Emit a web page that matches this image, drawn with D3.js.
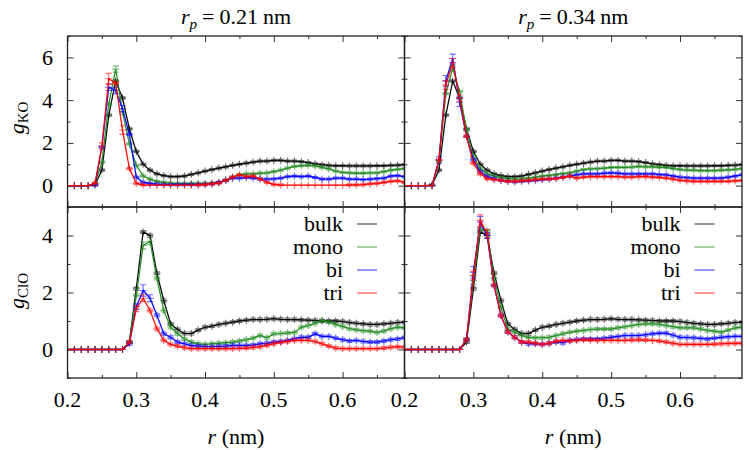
<!DOCTYPE html>
<html><head><meta charset="utf-8">
<script src="https://cdn.jsdelivr.net/npm/d3@7"></script>
<style>
body{margin:0;background:#fff}
svg#c text, svg#c tspan { font-family: "Liberation Serif", "Times New Roman", Tinos, serif !important; }
</style>
</head><body>
<svg id="c" width="750" height="450" font-family="Liberation Serif"></svg>
<script>
// ---------- data ----------
const rValues = [0.20,0.21,0.22,0.23,0.24,0.25,0.26,0.27,0.28,0.29,
  0.30,0.31,0.32,0.33,0.34,0.35,0.36,0.37,0.38,0.39,
  0.40,0.41,0.42,0.43,0.44,0.45,0.46,0.47,0.48,0.49,
  0.50,0.51,0.52,0.53,0.54,0.55,0.56,0.57,0.58,0.59,
  0.60,0.61,0.62,0.63,0.64,0.65,0.66,0.67,0.68,0.69];

const seriesNames = ["bulk","mono","bi","tri"];
const seriesColors = ["#000000","#228b22","#0000ff","#ff0000"];
const panelTitles = ["0.21","0.34"];
const xTickLabels = [0.2,0.3,0.4,0.5,0.6];
const koTickLabels = [0,2,4,6];
const cloTickLabels = [0,2,4];

const bulkKO = [0,0,0,0,0.03, 0.73,3.3,4.9,4.1,2.65, 1.6,1.0,0.72,0.55,0.47, 0.42,0.42,0.45,0.53,0.6,
  0.68,0.75,0.82,0.88,0.95, 1.0,1.05,1.1,1.15,1.15, 1.18,1.18,1.15,1.15,1.12, 1.08,1.02,0.98,0.95,0.93,
  0.93,0.92,0.92,0.92,0.92, 0.93,0.93,0.95,0.96,0.98];
const monoKO21 = [0,0,0,0,0.1, 1.1,3.8,5.45,3.45,1.95, 0.95,0.45,0.3,0.2,0.15, 0.12,0.1,0.1,0.1,0.1,
  0.1,0.12,0.15,0.25,0.4, 0.5,0.55,0.55,0.58,0.6, 0.65,0.72,0.82,0.9,0.93, 0.95,0.92,0.85,0.78,0.68,
  0.62,0.6,0.58,0.58,0.6, 0.6,0.65,0.72,0.76,0.8];
const biKO21 = [0,0,0,0,0.05, 1.8,4.6,4.45,3.6,2.4, 0.4,0.15,0.1,0.07,0.05, 0.05,0.05,0.05,0.05,0.05,
  0.06,0.08,0.15,0.25,0.35, 0.35,0.38,0.35,0.32,0.3, 0.32,0.35,0.42,0.45,0.42, 0.45,0.38,0.3,0.3,0.35,
  0.35,0.3,0.3,0.28,0.3, 0.33,0.35,0.45,0.47,0.42];
const triKO21 = [0,0,0,0,0.1, 1.85,5.0,4.8,2.6,0.8, 0.1,0.03,0.02,0.02,0.02, 0.02,0.02,0.02,0.02,0.03,
  0.05,0.08,0.12,0.25,0.4, 0.5,0.42,0.45,0.3,0.15, 0.06,0.03,0.02,0.02,0.02, 0.02,0.02,0.02,0.02,0.02,
  0.02,0.03,0.03,0.05,0.08, 0.1,0.15,0.2,0.22,0.15];
const monoKO34 = [0,0,0,0,0, 1.15,4.3,5.5,4.4,2.6, 1.35,0.8,0.55,0.45,0.38, 0.33,0.3,0.32,0.35,0.4,
  0.45,0.48,0.52,0.56,0.6, 0.68,0.75,0.78,0.8,0.82, 0.85,0.85,0.85,0.87,0.9, 0.88,0.88,0.86,0.85,0.8,
  0.75,0.73,0.72,0.7,0.7, 0.7,0.72,0.74,0.76,0.8];
const biKO34 = [0,0,0,0,0, 1.2,4.9,5.95,3.9,2.3, 1.2,0.65,0.42,0.33,0.25, 0.2,0.18,0.2,0.22,0.25,
  0.28,0.3,0.35,0.4,0.45, 0.5,0.55,0.55,0.55,0.58, 0.6,0.58,0.55,0.55,0.55, 0.55,0.55,0.52,0.5,0.45,
  0.4,0.37,0.35,0.35,0.35, 0.35,0.35,0.4,0.45,0.5];
const triKO34 = [0,0,0,0,0, 1.2,4.7,5.75,4.1,2.3, 1.05,0.55,0.33,0.28,0.25, 0.2,0.2,0.22,0.25,0.28,
  0.3,0.32,0.33,0.38,0.45, 0.35,0.4,0.42,0.42,0.42, 0.42,0.42,0.4,0.4,0.42, 0.42,0.4,0.38,0.35,0.3,
  0.25,0.22,0.2,0.2,0.2, 0.2,0.2,0.2,0.22,0.25];

const bulkClO = [0,0,0,0,0, 0,0,0,0,0.26, 2.13,4.12,4.0,2.68,1.72, 0.9,0.7,0.56,0.56,0.68,
  0.78,0.82,0.88,0.92,0.96, 1.0,1.03,1.05,1.05,1.06, 1.08,1.06,1.05,1.05,1.04, 1.03,1.02,1.0,1.0,1.0,
  0.98,0.95,0.92,0.9,0.88, 0.88,0.9,0.92,0.95,0.95];
const monoClO21 = [0,0,0,0,0, 0,0,0,0,0.25, 1.9,3.65,3.8,2.5,1.37, 0.78,0.55,0.37,0.26,0.2,
  0.18,0.2,0.22,0.24,0.26, 0.3,0.34,0.4,0.49,0.41, 0.55,0.56,0.58,0.6,0.78, 0.84,0.92,1.02,0.96,0.88,
  0.81,0.73,0.69,0.66,0.64, 0.6,0.65,0.73,0.78,0.76];
const biClO21 = [0,0,0,0,0, 0,0,0,0,0.2, 1.5,2.07,1.8,1.2,0.55, 0.43,0.26,0.2,0.14,0.12,
  0.1,0.1,0.11,0.12,0.14, 0.14,0.14,0.16,0.2,0.22, 0.26,0.28,0.32,0.38,0.43, 0.43,0.55,0.46,0.46,0.4,
  0.34,0.3,0.32,0.28,0.26, 0.26,0.3,0.34,0.37,0.41];
const triClO21 = [0,0,0,0,0, 0,0,0,0,0.25, 1.43,1.8,1.37,0.73,0.32, 0.18,0.12,0.06,0.03,0.03,
  0.03,0.03,0.03,0.03,0.03, 0.04,0.05,0.07,0.1,0.15, 0.2,0.25,0.28,0.32,0.32, 0.32,0.28,0.2,0.12,0.05,
  0.03,0.03,0.03,0.03,0.03, 0.03,0.05,0.08,0.1,0.08];
const monoClO34 = [0,0,0,0,0, 0,0,0,0,0.35, 2.42,4.23,4.17,2.48,1.48, 0.72,0.61,0.49,0.43,0.41,
  0.41,0.43,0.49,0.55,0.61, 0.64,0.67,0.7,0.72,0.72, 0.72,0.76,0.8,0.84,0.88, 0.9,0.9,0.88,0.84,0.8,
  0.76,0.76,0.76,0.72,0.67, 0.64,0.61,0.68,0.76,0.78];
const biClO34 = [0,0,0,0,0, 0,0,0,0,0.35, 2.71,4.47,4.0,2.25,1.19, 0.61,0.43,0.26,0.2,0.2,
  0.18,0.22,0.26,0.24,0.32, 0.35,0.37,0.37,0.37,0.4, 0.43,0.46,0.49,0.49,0.49, 0.52,0.55,0.57,0.57,0.5,
  0.43,0.42,0.41,0.39,0.37, 0.4,0.43,0.45,0.46,0.46];
const triClO34 = [0,0,0,0,0, 0,0,0,0,0.35, 2.6,4.53,4.06,2.25,1.19, 0.61,0.43,0.26,0.26,0.22,
  0.18,0.22,0.29,0.32,0.3, 0.32,0.34,0.33,0.32,0.32, 0.32,0.32,0.32,0.33,0.34, 0.33,0.32,0.3,0.26,0.22,
  0.18,0.18,0.18,0.18,0.18, 0.19,0.2,0.21,0.22,0.22];

// error bars (half-widths) at the peaks: [panel, series, r, err]
const peakErrors = [
  ["KO21","mono",0.27,0.14],["KO21","mono",0.28,0.12],["KO21","tri",0.26,0.25],["KO21","tri",0.25,0.15],
  ["KO21","bi",0.26,0.15],["KO21","bi",0.27,0.15],["KO21","tri",0.28,0.2],["KO21","bi",0.28,0.15],
  ["KO34","bi",0.27,0.2],["KO34","tri",0.27,0.2],["KO34","mono",0.27,0.15],["KO34","bi",0.26,0.25],
  ["KO34","tri",0.26,0.2],["KO34","bi",0.28,0.2],["KO34","tri",0.28,0.15],["KO34","bi",0.25,0.15],
  ["ClO21","bi",0.31,0.2],["ClO21","bi",0.32,0.12],["ClO21","tri",0.31,0.12],["ClO21","mono",0.31,0.12],
  ["ClO21","mono",0.32,0.12],["ClO21","bi",0.30,0.1],["ClO21","tri",0.30,0.1],
  ["ClO34","tri",0.31,0.2],["ClO34","bi",0.31,0.2],["ClO34","tri",0.30,0.15],["ClO34","bi",0.30,0.2],
  ["ClO34","tri",0.32,0.15],["ClO34","bi",0.32,0.1],["ClO34","mono",0.30,0.15]
];
const defaultErr = 0.05;

// ---------- layout ----------
const FONT = '"Liberation Serif"';
const FS = 22;
const cols = [{x0:67.5, x1:404.5},{x0:404.5, x1:742}];
const rowsDef = [
  {key:"KO", y0:36, y1:207, domain:[-1,7], major:koTickLabels, minor:[-1,1,3,5,7], sub:"KO", labelY:118},
  {key:"ClO", y0:207, y1:378, domain:[-1,5], major:cloTickLabels, minor:[-1,1,3,5], sub:"ClO", labelY:291}
];
const panelData = {
  KO21:[bulkKO,monoKO21,biKO21,triKO21],
  KO34:[bulkKO,monoKO34,biKO34,triKO34],
  ClO21:[bulkClO,monoClO21,biClO21,triClO21],
  ClO34:[bulkClO,monoClO34,biClO34,triClO34]
};
const rp = ["21","34"];

const svg = d3.select("#c");
svg.append("rect").attr("width",750).attr("height",450).attr("fill","#fff");
const defs = svg.append("defs");
const txt = (sel) => sel.attr("font-family","Liberation Serif").style("font-family",FONT).attr("font-size",FS).attr("fill","#000");

rowsDef.forEach((row, ri) => {
  cols.forEach((col, ci) => {
    const key = row.key + rp[ci];
    const x = d3.scaleLinear().domain([0.2,0.69]).range([col.x0,col.x1]);
    const y = d3.scaleLinear().domain(row.domain).range([row.y1,row.y0]);
    const g = svg.append("g");
    const clipId = "clip-" + key;
    defs.append("clipPath").attr("id",clipId).append("rect")
      .attr("x",col.x0).attr("y",row.y0).attr("width",col.x1-col.x0).attr("height",row.y1-row.y0);

    const xMajor = [0.2,0.3,0.4,0.5,0.6];
    const xMinor = [0.25,0.35,0.45,0.55,0.65];
    const mkAxis = (axis, vals, size, transform) => {
      const a = g.append("g").attr("transform",transform)
        .call(axis.tickValues(vals).tickSize(size).tickFormat(""));
      a.select(".domain").remove();
      a.selectAll("text").remove();
      a.attr("font-family",null);
      a.selectAll("line").attr("stroke","#333").attr("stroke-width",1);
    };
    mkAxis(d3.axisBottom(x), xMajor, -6, `translate(0,${row.y1})`);
    mkAxis(d3.axisBottom(x), xMinor, -3, `translate(0,${row.y1})`);
    mkAxis(d3.axisTop(x), xMajor, -6, `translate(0,${row.y0})`);
    mkAxis(d3.axisTop(x), xMinor, -3, `translate(0,${row.y0})`);
    mkAxis(d3.axisLeft(y), row.major, -6, `translate(${col.x0},0)`);
    mkAxis(d3.axisLeft(y), row.minor, -3, `translate(${col.x0},0)`);
    mkAxis(d3.axisRight(y), row.major, -6, `translate(${col.x1},0)`);
    mkAxis(d3.axisRight(y), row.minor, -3, `translate(${col.x1},0)`);

    const plot = g.append("g").attr("clip-path",`url(#${clipId})`);
    const line = d3.line().x((d,i)=>x(rValues[i])).y(d=>y(d));
    panelData[key].forEach((vals, si) => {
      const color = seriesColors[si];
      const name = seriesNames[si];
      const sg = plot.append("g");
      sg.append("path").datum(vals).attr("d",line).attr("fill","none")
        .attr("stroke",color).attr("stroke-width",1.3).attr("stroke-opacity",0.95);
      const pts = vals.map((v,i)=>{
        const pe = peakErrors.find(e=>e[0]===key && e[1]===name && Math.abs(e[2]-rValues[i])<1e-6);
        const err = pe ? pe[3] : (v>0.02 ? defaultErr : 0);
        return {r:rValues[i], v, err};
      });
      const mg = sg.append("g").attr("stroke",color).attr("stroke-width",1.1).attr("stroke-opacity",0.6).attr("fill","none");
      mg.selectAll("path.m").data(pts).join("path").attr("class","m")
        .attr("d",d=>{
          const px = x(d.r), py = y(d.v);
          let s = `M${px-3.5},${py}h7M${px},${py-3.5}v7`;
          if (d.err>0){
            const a = y(d.v+d.err), b = y(d.v-d.err);
            s += `M${px},${a}V${b}M${px-3},${a}h6M${px-3},${b}h6`;
          }
          return s;
        });
    });

    g.append("rect").attr("x",col.x0).attr("y",row.y0).attr("width",col.x1-col.x0).attr("height",row.y1-row.y0)
      .attr("fill","none").attr("stroke","#222").attr("stroke-width",1.3);
  });
});

// ---------- texts ----------
rowsDef.forEach((row, ri) => {
  cols.forEach((col, ci) => {
    const x = d3.scaleLinear().domain([0.2,0.69]).range([col.x0,col.x1]);
    const y = d3.scaleLinear().domain(row.domain).range([row.y1,row.y0]);
    if (ci===0){
      row.major.forEach(v => {
        txt(svg.append("text").attr("x",53).attr("y",y(v)+7.5).attr("text-anchor","end")).text(v);
      });
      const lab = txt(svg.append("text").attr("transform",`translate(24,${row.labelY}) rotate(-90)`)
        .attr("text-anchor","middle"));
      lab.append("tspan").attr("font-style","italic").text("g");
      lab.append("tspan").attr("font-size",15).attr("dy",4).text(row.sub);
    }
    if (ri===1){
      xTickLabels.forEach(v => {
        txt(svg.append("text").attr("x",x(v)).attr("y",407).attr("text-anchor","middle")).text(v.toFixed(1));
      });
      const xl = txt(svg.append("text").attr("x",(col.x0+col.x1)/2).attr("y",444).attr("text-anchor","middle"));
      xl.append("tspan").attr("font-style","italic").text("r");
      xl.append("tspan").text(" (nm)");
      seriesNames.forEach((n, si) => {
        const ly = 224 + si*23;
        txt(svg.append("text").attr("x",col.x1-61.5).attr("y",ly+7).attr("text-anchor","end")).text(n);
        svg.append("line").attr("x1",col.x1-47.5).attr("x2",col.x1-27.5).attr("y1",ly).attr("y2",ly)
          .attr("stroke",seriesColors[si]).attr("stroke-width",1.3).attr("stroke-opacity",0.65);
      });
    }
    if (ri===0){
      const t = txt(svg.append("text").attr("x",(col.x0+col.x1)/2).attr("y",24).attr("text-anchor","middle"));
      t.append("tspan").attr("font-style","italic").text("r");
      t.append("tspan").attr("font-style","italic").attr("font-size",15).attr("dy",5).text("p");
      t.append("tspan").attr("dy",-5).attr("dx",5).text("=");
      t.append("tspan").attr("dx",5).text(panelTitles[ci]);
      t.append("tspan").attr("dx",5).text("nm");
    }
  });
});
</script>
</body></html>
